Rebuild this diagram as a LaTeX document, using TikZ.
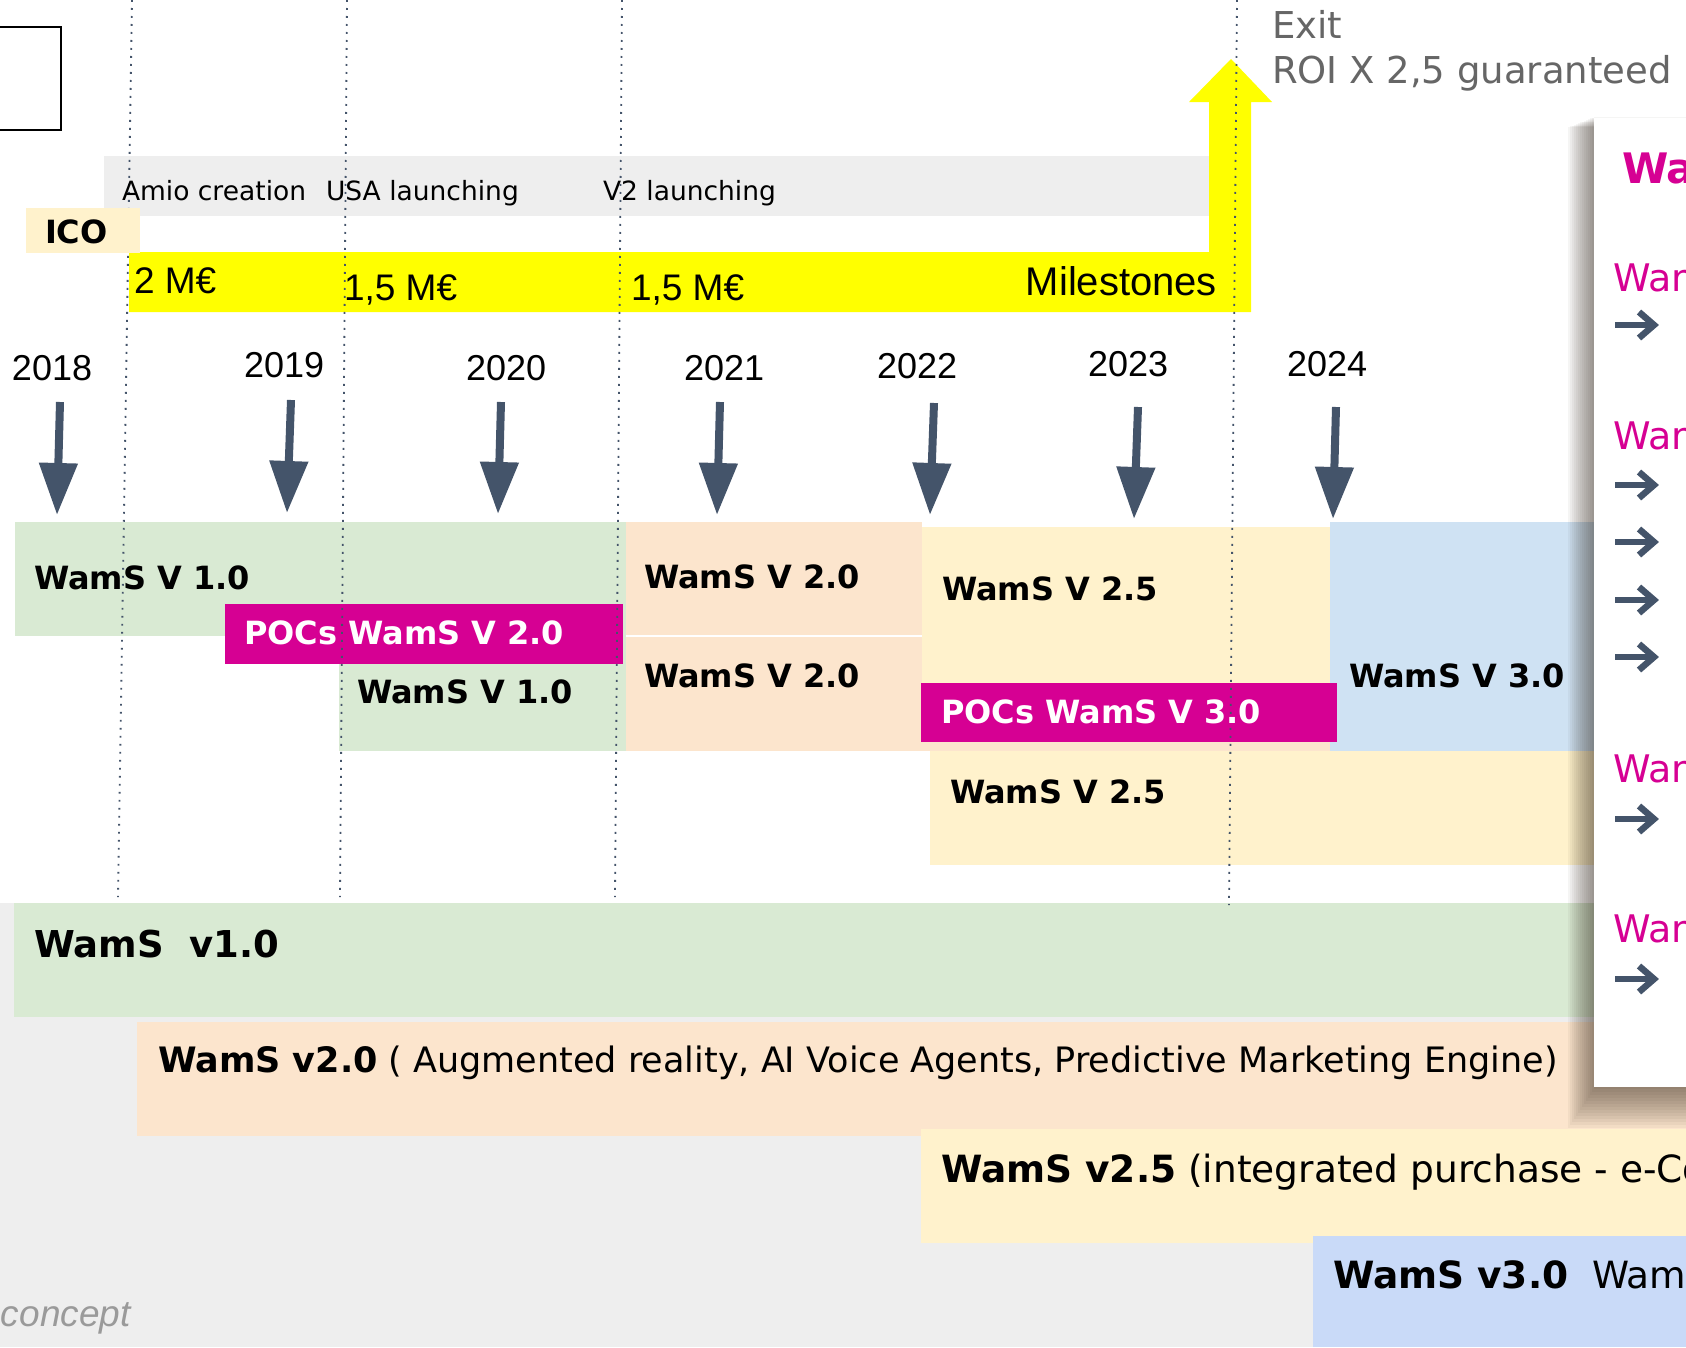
\documentclass[tikz,border=0pt]{standalone}
\usepackage{fontspec}
\setmainfont{DejaVu Sans}
\newfontfamily\arialf{Liberation Sans}
\usetikzlibrary{arrows.meta}
\definecolor{cgreen}{HTML}{D9EAD3}
\definecolor{cpeach}{HTML}{FCE5CD}
\definecolor{ccream}{HTML}{FFF2CC}
\definecolor{cblue}{HTML}{CFE2F3}
\definecolor{cblueb}{HTML}{C9DAF8}
\definecolor{cmag}{HTML}{D60093}
\definecolor{cslate}{HTML}{44546A}
\definecolor{cband}{HTML}{EEEEEE}
\definecolor{cexit}{HTML}{666666}
\definecolor{cconcept}{HTML}{9A9A9A}
\definecolor{cyellow}{HTML}{FFFF00}
\begin{document}
\begin{tikzpicture}[x=1pt,y=-1pt,
  lbl/.style={anchor=base west, inner sep=0pt, outer sep=0pt},
  milestone/.style={lbl, font=\fontsize{26.5}{30}\selectfont},
  money/.style={lbl, font=\arialf\fontsize{37}{40}\selectfont},
  yearlbl/.style={lbl, font=\arialf\fontsize{36}{40}\selectfont},
  boxlbl/.style={lbl, font=\fontsize{32}{36}\selectfont\bfseries},
  poclbl/.style={boxlbl, text=white},
  biglbl/.style={lbl, font=\fontsize{37.5}{42}\selectfont},
  yarrow/.style={draw=cslate, line width=8pt, -{Triangle[width=37pt,length=52pt]}},
  dotline/.style={draw=cslate, line width=1.8pt, dash pattern=on 1.8pt off 6.2pt},
  parrow/.style={draw=cslate, line width=6.5pt},
  exitlbl/.style={lbl, text=cexit, font=\fontsize{37}{42}\selectfont},
  panellbl/.style={lbl, text=cmag, font=\fontsize{38}{42}\selectfont}
]
\useasboundingbox (0,0) rectangle (1686,1347);
\clip (0,0) rectangle (1686,1347);
\fill[white] (0,0) rectangle (1686,1347);
\fill[cband] (0,903) rectangle (1686,1347);

% top-left frame
\draw[line width=2pt] (-10,27) rectangle (61,130);

% milestone band
\fill[cband] (104,156) rectangle (1209,216);

% boxes of the middle section
\fill[cgreen] (15,522) rectangle (626,636);
\fill[cgreen] (339,636) rectangle (626,751);
\fill[cpeach] (626,522) rectangle (922,636);
\fill[cpeach] (626,636) rectangle (1330,751);
\draw[white, line width=1.5pt] (626,636) -- (922,636);
\fill[ccream] (922,527) rectangle (1330,700);
\fill[cblue] (1330,522) rectangle (1686,751);
\fill[ccream] (930,751) rectangle (1686,865);
\fill[cmag] (225,604) rectangle (623,664);
\fill[cmag] (921,683) rectangle (1337,742);

% bottom bands
\fill[cgreen] (14,903) rectangle (1686,1017);
\fill[cpeach] (137,1022) rectangle (1686,1136);
\fill[ccream] (921,1129) rectangle (1686,1243);
\fill[cblueb] (1313,1236) rectangle (1686,1347);

% yellow milestone arrow
\fill[cyellow] (129,252) -- (1209,252) -- (1209,102) -- (1189,102) -- (1231,59)
  -- (1272,102) -- (1251,102) -- (1251,312) -- (129,312) -- cycle;

% dotted year markers
\coordinate (d1t) at (132,0);   \coordinate (d1b) at (118,897);
\coordinate (d2t) at (347,0);   \coordinate (d2b) at (340,897);
\coordinate (d3t) at (622,0);   \coordinate (d3b) at (615,897);
\coordinate (d4t) at (1237,0);  \coordinate (d4b) at (1229,905);
\draw[dotline] (d1t) -- (d1b);
\draw[dotline] (d2t) -- (d2b);
\draw[dotline] (d3t) -- (d3b);
\draw[dotline] (d4t) -- (d4b);

% ICO
\fill[ccream] (26,208) rectangle (140,253);
\node[lbl, font=\fontsize{32}{36}\selectfont\bfseries] (ico) at (45,243) {ICO};

% milestone texts
\node[milestone] (amio) at (122,200) {Amio creation};
\node[milestone] (usa) at (326,200) {USA launching};
\node[milestone] (v2l) at (603,200) {V2 launching};
\node[money] (m1) at (134,293) {2 M€};
\node[money] (m2) at (344,300) {1,5 M€};
\node[money] (m3) at (631,300) {1,5 M€};
\node[lbl, anchor=base east, font=\arialf\fontsize{40}{44}\selectfont] (miles) at (1217,295) {Milestones};
\node[exitlbl] (exit) at (1272,38) {Exit};
\node[exitlbl] (roi) at (1272,83) {ROI X 2,5 guaranteed};

% years
\node[yearlbl] (y18) at (12,380) {2018};
\node[yearlbl] (y19) at (244,377) {2019};
\node[yearlbl] (y20) at (466,380) {2020};
\node[yearlbl] (y21) at (684,380) {2021};
\node[yearlbl] (y22) at (877,378) {2022};
\node[yearlbl] (y23) at (1088,376) {2023};
\node[yearlbl] (y24) at (1287,376) {2024};

% year arrows
\coordinate (a18t) at (60,402);   \coordinate (a18p) at (57,515);
\coordinate (a19t) at (291,400);  \coordinate (a19p) at (287,513);
\coordinate (a20t) at (501,402);  \coordinate (a20p) at (498,514);
\coordinate (a21t) at (720,402);  \coordinate (a21p) at (717,515);
\coordinate (a22t) at (934,403);  \coordinate (a22p) at (930,515);
\coordinate (a23t) at (1138,407); \coordinate (a23p) at (1134,519);
\coordinate (a24t) at (1336,407); \coordinate (a24p) at (1333,519);
\draw[yarrow] (a18t) -- (a18p);
\draw[yarrow] (a19t) -- (a19p);
\draw[yarrow] (a20t) -- (a20p);
\draw[yarrow] (a21t) -- (a21p);
\draw[yarrow] (a22t) -- (a22p);
\draw[yarrow] (a23t) -- (a23p);
\draw[yarrow] (a24t) -- (a24p);

% box labels
\node[boxlbl] (b10a) at (34,589) {WamS V 1.0};
\node[poclbl] (poc2) at (244,644) {POCs WamS V 2.0};
\node[boxlbl] (b10b) at (357,703) {WamS V 1.0};
\node[boxlbl] (b20a) at (644,588) {WamS V 2.0};
\node[boxlbl] (b20b) at (644,687) {WamS V 2.0};
\node[boxlbl] (b25a) at (942,600) {WamS V 2.5};
\node[poclbl] (poc3) at (941,723) {POCs WamS V 3.0};
\node[boxlbl] (b30) at (1349,687) {WamS V 3.0};
\node[boxlbl] (b25b) at (950,803) {WamS V 2.5};

% bottom labels
\node[lbl, font=\fontsize{37}{42}\selectfont] (v10) at (34,957) {\bfseries WamS~ v1.0};
\node[lbl, font=\fontsize{35}{40}\selectfont] (v20) at (158,1072) {\textbf{WamS v2.0} ( Augmented reality, AI Voice Agents, Predictive Marketing Engine)};
\node[biglbl] (v25) at (941,1182) {\textbf{WamS v2.5} (integrated purchase - e-Commerce)};
\node[biglbl] (v30) at (1333,1288) {\textbf{WamS v3.0}~ WamS};
\node[lbl, text=cconcept, font=\arialf\itshape\fontsize{37}{40}\selectfont] (concept) at (1,1326) {concept};

% right panel with shadow
\foreach \s in {2,4,...,28} {
  \fill[black!80!brown, opacity=0.045] (1596-\s,116+\s*0.4) rectangle (1700,1086+\s*1.5);
}
\fill[white] (1594,118) rectangle (1700,1087);
\node[lbl, text=cmag, font=\fontsize{42}{46}\selectfont\bfseries] (ptitle) at (1622,183) {WamS};
\node[panellbl] (p1) at (1613,291) {WamS};
\node[panellbl] (p2) at (1613,449) {WamS};
\node[panellbl] (p3) at (1613,782) {WamS};
\node[panellbl] (p4) at (1613,942) {WamS};
\foreach \yy in {325,485,542,600,657,819,979} {
  \draw[parrow] (1615,\yy) -- (1650,\yy);
  \draw[parrow, miter limit=10] (1639,\yy-13) -- (1654,\yy) -- (1639,\yy+13);
}
\end{tikzpicture}
\end{document}
